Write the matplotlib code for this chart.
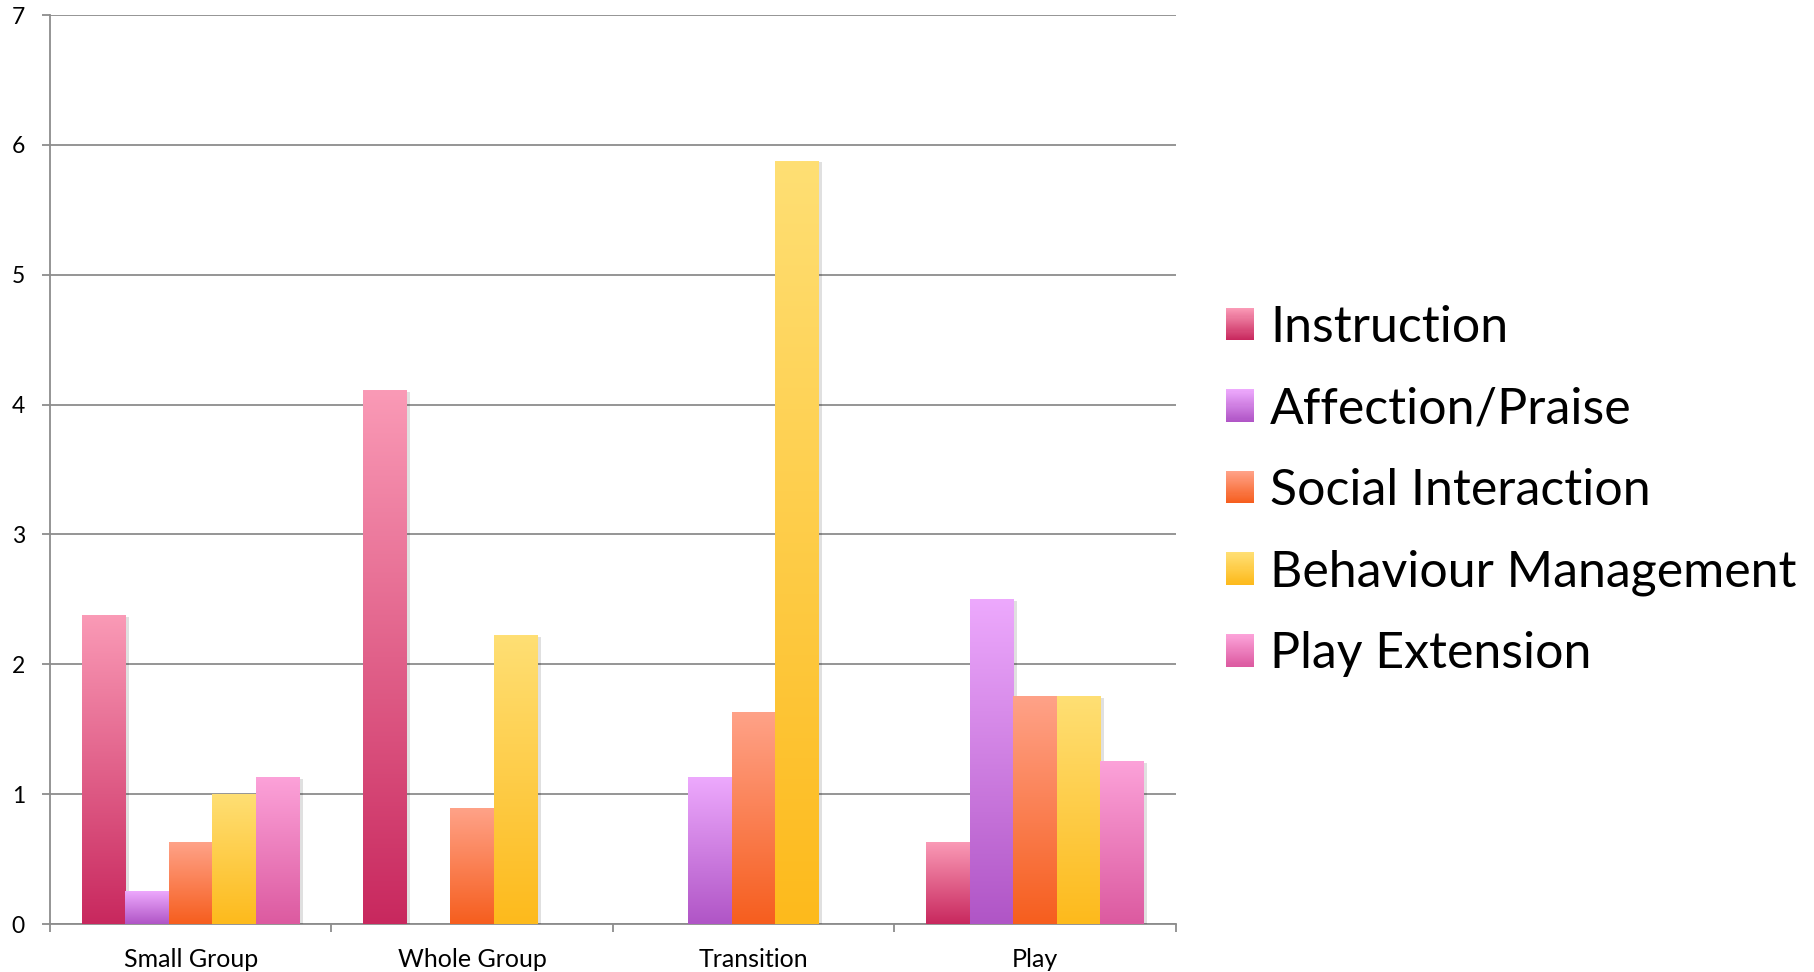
import numpy as np
import matplotlib
matplotlib.use('Agg')
import matplotlib.pyplot as plt
from matplotlib.colors import LinearSegmentedColormap, to_rgb
from matplotlib.legend_handler import HandlerBase
from matplotlib.patches import Rectangle
import matplotlib.patheffects as pe

# ---------------- data ----------------
categories = ['Small Group', 'Whole Group', 'Transition', 'Play']
series_names = ['Instruction', 'Affection/Praise', 'Social Interaction',
                'Behaviour Management', 'Play Extension']
instruction = [2.375, 4.111, 0.0, 0.625]
affection = [0.25, 0.0, 1.125, 2.5]
social_interaction = [0.625, 0.889, 1.625, 1.75]
behaviour_management = [1.0, 2.222, 5.875, 1.75]
play_extension = [1.125, 0.0, 0.0, 1.25]
y_ticks = [0, 1, 2, 3, 4, 5, 6, 7]

series_values = [instruction, affection, social_interaction,
                 behaviour_management, play_extension]

top_colors = ['#FA9AB6', '#EDA9FD', '#FFA288', '#FFDF74', '#FCA2D9']
bottom_colors = ['#C8285E', '#B055C6', '#F65E1E', '#FDBA1C', '#DC5AA0']

plt.rcParams['font.family'] = ['Lato', 'DejaVu Sans']

W, H = 1814, 972
fig = plt.figure(figsize=(W / 100, H / 100), dpi=100)
ax = fig.add_axes([50 / W, 1 - 924 / H, (1175.6 - 50) / W, (924 - 15) / H])

n_series = len(series_names)
width = 0.1546
centers = np.arange(len(categories)) + 0.5
grad = np.linspace(0, 1, 256).reshape(-1, 1)

for j, (vals, ctop, cbot) in enumerate(zip(series_values, top_colors, bottom_colors)):
    cmap = LinearSegmentedColormap.from_list(f'g{j}', [cbot, ctop])
    xs = centers + (j - (n_series - 1) / 2) * width
    bars = ax.bar(xs, vals, width=width, color=ctop, linewidth=0, zorder=3)
    for p in bars.patches:
        h = p.get_height()
        if h <= 0:
            p.set_visible(False)
            continue
        p.set_path_effects([pe.SimplePatchShadow(offset=(2.5, -1), shadow_rgbFace='#000000', alpha=0.12),
                            pe.Normal()])
        x0 = p.get_x()
        ax.imshow(grad, extent=(x0, x0 + p.get_width(), 0, h), origin='lower',
                  aspect='auto', cmap=cmap, zorder=4, interpolation='bilinear')

ax.set_xlim(0, len(categories))
ax.set_ylim(0, 7)
ax.set_aspect('auto')

grid_c = '#8c8c8c'
ax.set_yticks(y_ticks)
ax.set_yticklabels([str(t) for t in y_ticks])
ax.yaxis.grid(True, color=grid_c, linewidth=1.3, zorder=0.5)
ax.set_axisbelow(True)

ax.set_xticks(np.arange(len(categories) + 1))
ax.set_xticklabels([])
ax.set_xticks(centers, minor=True)
ax.set_xticklabels(categories, minor=True)
ax.tick_params(axis='x', which='major', length=6, width=1.3, color=grid_c, direction='out')
ax.tick_params(axis='x', which='minor', length=0, pad=17, labelsize=18)
ax.tick_params(axis='y', length=6, width=1.3, color=grid_c, direction='out', pad=12, labelsize=16.5)

for s in ['top', 'right']:
    ax.spines[s].set_visible(False)
for s in ['left', 'bottom']:
    ax.spines[s].set_color(grid_c)
    ax.spines[s].set_linewidth(1.3)


class GradHandler(HandlerBase):
    def __init__(self, ctop, cbot, n=30):
        super().__init__()
        self.ctop = np.array(to_rgb(ctop))
        self.cbot = np.array(to_rgb(cbot))
        self.n = n

    def create_artists(self, legend, orig_handle, xdescent, ydescent,
                       width, height, fontsize, trans):
        arts = []
        for k in range(self.n):
            f = k / (self.n - 1)
            c = self.cbot * (1 - f) + self.ctop * f
            r = Rectangle((-xdescent, -ydescent + k * height / self.n), width,
                          height / self.n * 1.05, facecolor=c, edgecolor='none',
                          transform=trans)
            arts.append(r)
        return arts


proxies = [Rectangle((0, 0), 1, 1) for _ in series_names]
hmap = {p: GradHandler(t, b) for p, t, b in zip(proxies, top_colors, bottom_colors)}
fig.legend(proxies, series_names, handler_map=hmap, loc='center left',
           bbox_to_anchor=(1226 / W, 0.495), frameon=False, fontsize=36,
           handlelength=0.56, handleheight=0.62, handletextpad=0.32,
           labelspacing=0.71, borderpad=0, borderaxespad=0)

fig.savefig('out.png', dpi=100, facecolor='white')
